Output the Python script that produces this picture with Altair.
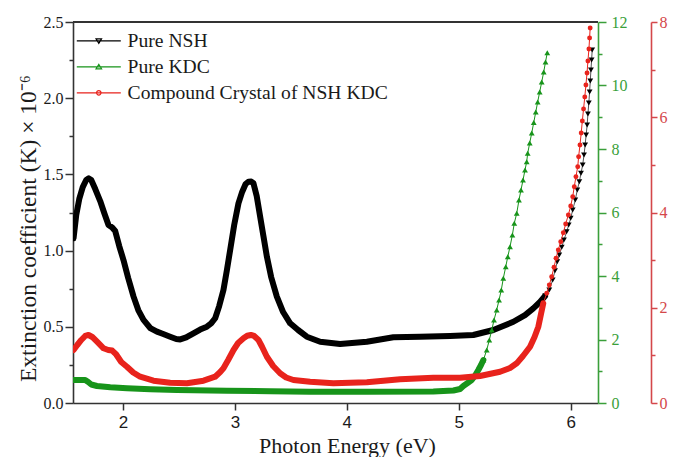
import altair as alt
import pandas as pd

# ---- Extinction coefficient K (x 10^-6) against photon energy (eV) ----
# Pure NSH (left axis, 0 - 2.5)
nsh_energy = [1.559, 1.583, 1.610, 1.641, 1.672, 1.695, 1.717, 1.753, 1.797, 1.833,
              1.871, 1.904, 1.931, 1.967, 2.005, 2.047, 2.095, 2.137, 2.184, 2.244,
              2.304, 2.360, 2.422, 2.476, 2.512, 2.565, 2.630, 2.690, 2.750, 2.788,
              2.824, 2.860, 2.898, 2.929, 2.958, 2.994, 3.032, 3.065, 3.096, 3.121,
              3.146, 3.166, 3.195, 3.226, 3.255, 3.286, 3.324, 3.375, 3.431, 3.494,
              3.565, 3.643, 3.762, 3.940, 4.179, 4.416, 4.654, 4.922, 5.130, 5.309,
              5.488, 5.592, 5.666, 5.726, 5.771,
              5.809, 5.839, 5.860, 5.880, 5.898, 5.920, 5.940, 5.964, 5.982, 6.000,
              6.018, 6.041, 6.059, 6.077, 6.092, 6.107, 6.119, 6.129, 6.138, 6.147,
              6.154, 6.162, 6.169, 6.175, 6.181, 6.187, 6.192]
nsh_k = [1.081, 1.234, 1.339, 1.417, 1.463, 1.474, 1.463, 1.404, 1.325, 1.247,
         1.168, 1.152, 1.129, 1.030, 0.938, 0.820, 0.698, 0.610, 0.545, 0.492,
         0.468, 0.453, 0.435, 0.420, 0.417, 0.430, 0.457, 0.482, 0.501, 0.522,
         0.556, 0.636, 0.741, 0.873, 1.004, 1.168, 1.310, 1.385, 1.437, 1.452,
         1.453, 1.442, 1.358, 1.222, 1.096, 0.960, 0.827, 0.698, 0.597, 0.523,
         0.479, 0.435, 0.402, 0.387, 0.402, 0.431, 0.435, 0.440, 0.446, 0.479,
         0.533, 0.577, 0.621, 0.663, 0.702,
         0.741, 0.807, 0.868, 0.927, 0.971, 1.022, 1.070, 1.124, 1.168, 1.212,
         1.266, 1.332, 1.398, 1.452, 1.507, 1.562, 1.627, 1.693, 1.759, 1.824,
         1.896, 1.969, 2.041, 2.113, 2.185, 2.251, 2.316]

# Pure KDC (green axis, 0 - 12)
kdc_energy = [1.559, 1.619, 1.663, 1.690, 1.717, 1.768, 1.887, 2.036, 2.244, 2.482,
              2.929, 3.315, 3.672, 4.179, 4.773, 4.952, 5.012, 5.041, 5.079, 5.116,
              5.146, 5.175, 5.199, 5.220,
              5.250, 5.273, 5.295, 5.315, 5.339, 5.360, 5.380, 5.398, 5.420, 5.438,
              5.458, 5.479, 5.496, 5.518, 5.538, 5.556, 5.574, 5.592, 5.607, 5.616,
              5.634, 5.652, 5.670, 5.688, 5.705, 5.723, 5.741, 5.759, 5.775, 5.791]
kdc_k = [0.724, 0.724, 0.724, 0.661, 0.583, 0.536, 0.494, 0.463, 0.435, 0.410,
         0.388, 0.369, 0.356, 0.356, 0.362, 0.394, 0.441, 0.536, 0.630, 0.724,
         0.866, 1.039, 1.197, 1.354,
         1.669, 1.984, 2.299, 2.614, 2.929, 3.244, 3.559, 3.927, 4.293, 4.608,
         4.924, 5.291, 5.659, 5.974, 6.394, 6.709, 7.024, 7.339, 7.601, 7.865,
         8.189, 8.504, 8.835, 9.165, 9.480, 9.795, 10.110, 10.425, 10.740, 11.034]

# Compound crystal of NSH KDC (red axis, 0 - 8)
cc_energy = [1.559, 1.592, 1.628, 1.663, 1.693, 1.726, 1.771, 1.827, 1.869, 1.904,
             1.940, 1.985, 2.036, 2.092, 2.154, 2.273, 2.422, 2.571, 2.720, 2.824,
             2.869, 2.898, 2.940, 2.988, 3.029, 3.077, 3.110, 3.143, 3.172, 3.211,
             3.244, 3.286, 3.342, 3.404, 3.458, 3.523, 3.672, 3.880, 4.179, 4.476,
             4.773, 5.012, 5.190, 5.369, 5.458, 5.518, 5.574, 5.637, 5.677, 5.711,
             5.735, 5.755,
             5.786, 5.809, 5.830, 5.851, 5.869, 5.889, 5.911, 5.934, 5.955, 5.979,
             6.000, 6.018, 6.032, 6.047, 6.063, 6.071, 6.083, 6.094, 6.104, 6.115,
             6.126, 6.136, 6.146, 6.154, 6.163, 6.169, 6.174]
cc_k = [1.113, 1.218, 1.323, 1.407, 1.428, 1.386, 1.281, 1.149, 1.113, 1.102,
        1.019, 0.861, 0.762, 0.641, 0.552, 0.468, 0.426, 0.414, 0.468, 0.552,
        0.651, 0.729, 0.903, 1.113, 1.260, 1.359, 1.411, 1.428, 1.407, 1.323,
        1.176, 0.972, 0.777, 0.624, 0.536, 0.483, 0.447, 0.414, 0.435, 0.498,
        0.531, 0.531, 0.567, 0.657, 0.735, 0.833, 0.987, 1.182, 1.386, 1.602,
        1.869, 2.093,
        2.303, 2.478, 2.652, 2.849, 3.038, 3.213, 3.387, 3.576, 3.759, 3.948,
        4.137, 4.332, 4.542, 4.752, 4.962, 5.172, 5.417, 5.669, 5.921, 6.173,
        6.425, 6.677, 6.929, 7.181, 7.433, 7.664, 7.874]

# Energy from which the readings are shown as separate markers
nsh_marker_from = 5.80
kdc_marker_from = 5.245
cc_marker_from = 5.78

series_names = ["Pure NSH", "Pure KDC", "Compound Crystal of NSH KDC"]
series_colors = ["#000000", "#17941a", "#e8231c"]
axis_colors = ["#222222", "#3a9f3a", "#d4474a"]

x_ticks = [2, 2.5, 3, 3.5, 4, 4.5, 5, 5.5, 6]
k_ticks = [0, 0.25, 0.5, 0.75, 1.0, 1.25, 1.5, 1.75, 2.0, 2.25, 2.5]
kdc_ticks = list(range(0, 13))
cc_ticks = list(range(0, 9))

# Legend keys: a short line with the series marker in the middle
legend_paths = [
    "M-4.4,0L4.4,0M-0.55,-0.4L0.55,-0.4L0,0.5Z",
    "M-4.4,0L4.4,0M-0.55,0.4L0.55,0.4L0,-0.5Z",
    "M-4.4,0L4.4,0M0.45,0A0.45,0.45,0,1,1,-0.45,0A0.45,0.45,0,1,1,0.45,0Z",
]

SERIF = "Liberation Serif"
SANS = "Liberation Sans"
W, H = 525, 381

x_scale = alt.Scale(domain=[1.554, 6.244], nice=False, zero=False)
x_axis = alt.Axis(
    values=x_ticks, format="d",
    labelExpr="datum.value % 1 === 0 ? datum.label : ''",
    tickSize={"condition": {"test": "datum.value % 1 === 0", "value": 7}, "value": 4},
    title="Photon Energy (eV)",
    titleFont=SERIF, titleFontSize=22, titleFontWeight="normal", titleColor="#1a1a1a",
    titleX=274, titleY=49, titleBaseline="alphabetic",
    labelFont=SANS, labelFontSize=17, labelColor="#1a1a1a", labelPadding=4,
    labelFlush=False, labelOverlap=False,
    domainColor="#333333", domainWidth=1.6, tickColor="#333333", tickWidth=1.5,
    grid=False,
)


def y_axis(ticks, major, color, orient, fmt, offset=0, tick_major=8, tick_minor=4, pad=3):
    return alt.Axis(
        orient=orient, offset=offset, values=ticks, format=fmt,
        labelExpr=f"datum.value % {major} === 0 ? datum.label : ''",
        tickSize={"condition": {"test": f"datum.value % {major} === 0", "value": tick_major},
                  "value": tick_minor},
        labelFont=SERIF, labelFontSize=16, labelColor=color, labelPadding=pad,
        labelFlush=False, labelOverlap=False,
        domainColor=color, domainWidth=1.6, tickColor=color, tickWidth=1.5,
        grid=False, title=None,
    )


left_axis = y_axis(k_ticks, 0.5, "#1a1a1a", "left", ".1f", pad=2)
left_axis.title = "Extinction coefficient (K) \u00d7 10\u207b\u2076"
left_axis.titleFont = SERIF
left_axis.titleFontSize = 23.5
left_axis.titleFontWeight = "normal"
left_axis.titleColor = "#1a1a1a"
left_axis.titleX = -38
left_axis.titleY = 206
left_axis.titleAngle = 270
left_axis.titleBaseline = "alphabetic"
left_axis.titleAlign = "center"
left_axis.domainColor = "#333333"
left_axis.tickColor = "#333333"

green_axis = y_axis(kdc_ticks, 2, axis_colors[1], "right", "d", pad=5)
red_axis = y_axis(cc_ticks, 2, axis_colors[2], "right", "d", offset=53, tick_major=6, pad=2)


def series_layer(energy, k, color, trace_color, shape, msize, domain, axis, marker_from):
    df = pd.DataFrame({"energy": energy, "k": k})
    base = alt.Chart(df).encode(
        x=alt.X("energy:Q", scale=x_scale, axis=x_axis),
        y=alt.Y("k:Q", scale=alt.Scale(domain=domain, nice=False, zero=False), axis=axis),
        order="energy:Q",
    )
    trace = base.mark_line(color=trace_color, strokeWidth=1, clip=True)
    band = base.transform_filter(alt.datum.energy < marker_from).mark_line(
        color=color, strokeWidth=6, strokeJoin="round", strokeCap="round", clip=True)
    points = base.transform_filter(alt.datum.energy >= marker_from - 0.04).mark_point(
        shape=shape, filled=True, color=color, size=msize, opacity=1, clip=True)
    return alt.layer(trace, band, points)


nsh = series_layer(nsh_energy, nsh_k, series_colors[0], "#555555", "triangle-down", 34,
                   [0, 2.5], left_axis, nsh_marker_from)
kdc = series_layer(kdc_energy, kdc_k, series_colors[1], series_colors[1], "triangle-up", 34,
                   [0, 12], green_axis, kdc_marker_from)
cc = series_layer(cc_energy, cc_k, series_colors[2], series_colors[2], "circle", 24,
                  [0, 8], red_axis, cc_marker_from)

# Top edge of the frame
frame = alt.Chart(pd.DataFrame({"edge": [0]})).mark_rule(
    color="#333333", strokeWidth=2).encode(x=alt.value(0), x2=alt.value(W), y=alt.value(0))

legend_kw = dict(
    orient="none", legendX=5, legendY=9, title=None, padding=0,
    symbolSize=100, symbolStrokeWidth=1.2, symbolOffset=11, labelOffset=19,
    labelFont=SERIF, labelFontSize=19.6, labelColor="#1a1a1a", labelLimit=0,
    rowPadding=5,
)
key = alt.Chart(pd.DataFrame({"series": series_names})).mark_point(opacity=0).encode(
    color=alt.Color("series:N", scale=alt.Scale(domain=series_names, range=series_colors),
                    legend=alt.Legend(**legend_kw)),
    shape=alt.Shape("series:N", scale=alt.Scale(domain=series_names, range=legend_paths),
                    legend=alt.Legend(**legend_kw)),
)

chart = (
    alt.layer(nsh, kdc, cc, frame, key)
    .resolve_scale(y="independent")
    .properties(
        width=W, height=H,
        padding={"left": 73, "top": 22, "right": 85, "bottom": 54},
        autosize=alt.AutoSizeParams(type="none"),
        background="white",
    )
    .configure_view(stroke=None)
)

chart.save("out.html", embed_options={"renderer": "svg", "actions": False})
